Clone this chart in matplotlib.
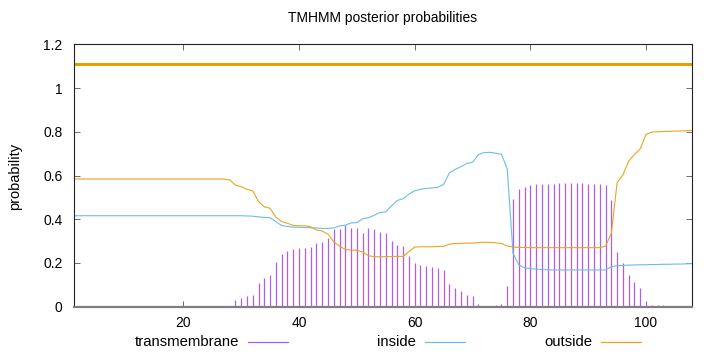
import matplotlib.pyplot as plt
from matplotlib.lines import Line2D
import numpy as np

plt.rcParams['font.family'] = ['Liberation Sans', 'DejaVu Sans']

# posterior probabilities per residue, residues 1..108
positions = np.arange(1, 109)

transmembrane = [0.0] * 22 + [
    0.002, 0.002, 0.003, 0.003, 0.004, 0.005,
    0.030, 0.040, 0.050, 0.053, 0.110, 0.133, 0.143, 0.204, 0.242, 0.253,
    0.264, 0.268, 0.268, 0.271, 0.290, 0.296, 0.316, 0.357, 0.354, 0.372,
    0.360, 0.358, 0.335, 0.361, 0.357, 0.340, 0.335, 0.301, 0.282, 0.276,
    0.233, 0.198, 0.191, 0.184, 0.183, 0.178, 0.166, 0.104, 0.084, 0.072,
    0.053, 0.050, 0.014, 0.001, 0.002, 0.008, 0.014, 0.096, 0.492, 0.540,
    0.549, 0.556, 0.559, 0.561, 0.562, 0.562, 0.564, 0.564, 0.564, 0.564,
    0.564, 0.562, 0.561, 0.559, 0.556, 0.488, 0.248, 0.198, 0.145, 0.113,
    0.087, 0.023, 0.008, 0.008, 0.006, 0.003, 0.001, 0.001, 0.0, 0.0]

inside = [0.416] * 30 + [
    0.415, 0.414, 0.411, 0.408, 0.407, 0.389, 0.371, 0.367, 0.364, 0.363,
    0.362, 0.361, 0.360, 0.358, 0.358, 0.360, 0.369, 0.373, 0.383, 0.385,
    0.402, 0.407, 0.418, 0.431, 0.434, 0.462, 0.486, 0.494, 0.515, 0.530,
    0.537, 0.541, 0.543, 0.546, 0.559, 0.612, 0.628, 0.640, 0.655, 0.660,
    0.695, 0.705, 0.706, 0.702, 0.697, 0.630, 0.244, 0.191, 0.178, 0.174,
    0.172, 0.170, 0.169, 0.168, 0.168, 0.168, 0.168, 0.168, 0.168, 0.168,
    0.168, 0.168, 0.168, 0.183, 0.187, 0.189, 0.190, 0.191, 0.192, 0.192,
    0.193, 0.193, 0.194, 0.194, 0.195, 0.195, 0.196, 0.197]

outside = [0.584] * 27 + [
    0.580, 0.556, 0.549, 0.537, 0.530, 0.480, 0.457, 0.450, 0.409, 0.389,
    0.381, 0.372, 0.370, 0.370, 0.366, 0.351, 0.346, 0.332, 0.297, 0.277,
    0.262, 0.259, 0.258, 0.250, 0.233, 0.229, 0.228, 0.229, 0.229, 0.230,
    0.230, 0.252, 0.273, 0.274, 0.274, 0.274, 0.275, 0.276, 0.286, 0.289,
    0.290, 0.291, 0.291, 0.293, 0.295, 0.294, 0.292, 0.289, 0.277, 0.273,
    0.271, 0.271, 0.270, 0.270, 0.270, 0.270, 0.270, 0.270, 0.270, 0.270,
    0.270, 0.270, 0.270, 0.270, 0.270, 0.277, 0.335, 0.568, 0.602, 0.666,
    0.697, 0.722, 0.788, 0.799, 0.800, 0.801, 0.802, 0.803, 0.804, 0.805,
    0.806]

# predicted topology (drawn as the thick bar on top)
topo_start = [1]
topo_end = [108]
topo_level = [1.11]

c_tm = '#b05ee6'
c_in = '#6cbdea'
c_out = '#eaa520'

fig = plt.figure(figsize=(7.2, 3.52), dpi=100)
fig.patch.set_facecolor('white')
ax = fig.add_axes([73.5 / 720, 1 - 306.7 / 352, 618.8 / 720, 262.4 / 352])

ax.vlines(positions, 0, transmembrane, color=c_tm, lw=0.9)
ax.plot(positions, inside, color=c_in, lw=0.8)
ax.plot(positions, outside, color=c_out, lw=0.8)
ax.hlines(topo_level, topo_start, topo_end, color='#e69f00', lw=2.2)

ax.set_xlim(1, 108)
ax.set_ylim(0, 1.2)
ax.set_xticks([20, 40, 60, 80, 100])
ax.set_yticks([0, 0.2, 0.4, 0.6, 0.8, 1.0, 1.2])
ax.set_yticklabels(['0', '0.2', '0.4', '0.6', '0.8', '1', '1.2'])
ax.tick_params(direction='in', top=True, right=True, length=4, width=0.6,
               color='#555555', labelsize=10, labelcolor='black')
ax.tick_params(axis='y', pad=8)
ax.tick_params(axis='x', pad=7)
for s in ['left', 'right', 'top']:
    ax.spines[s].set_linewidth(0.8)
    ax.spines[s].set_color('#222222')
ax.spines['bottom'].set_linewidth(1.6)
ax.spines['bottom'].set_color('#7f7f7f')

fig.text(383 / 720, 1 - 18 / 352, 'TMHMM posterior probabilities',
         ha='center', va='center', fontsize=10)
fig.text(15 / 720, 1 - 176 / 352, 'probability', rotation=90,
         ha='center', va='center', fontsize=10.5)

# key below the plot, gnuplot style: text then sample line
key_y = 1 - 342 / 352
for label, col, xr in [('transmembrane', c_tm, 239),
                       ('inside', c_in, 416),
                       ('outside', c_out, 592)]:
    fig.text(xr / 720, key_y, label, ha='right', va='center', fontsize=10.7)
    fig.add_artist(Line2D([(xr + 9) / 720, (xr + 49) / 720], [key_y, key_y],
                          color=col, lw=0.9, transform=fig.transFigure))

fig.savefig('out.png', dpi=100)
